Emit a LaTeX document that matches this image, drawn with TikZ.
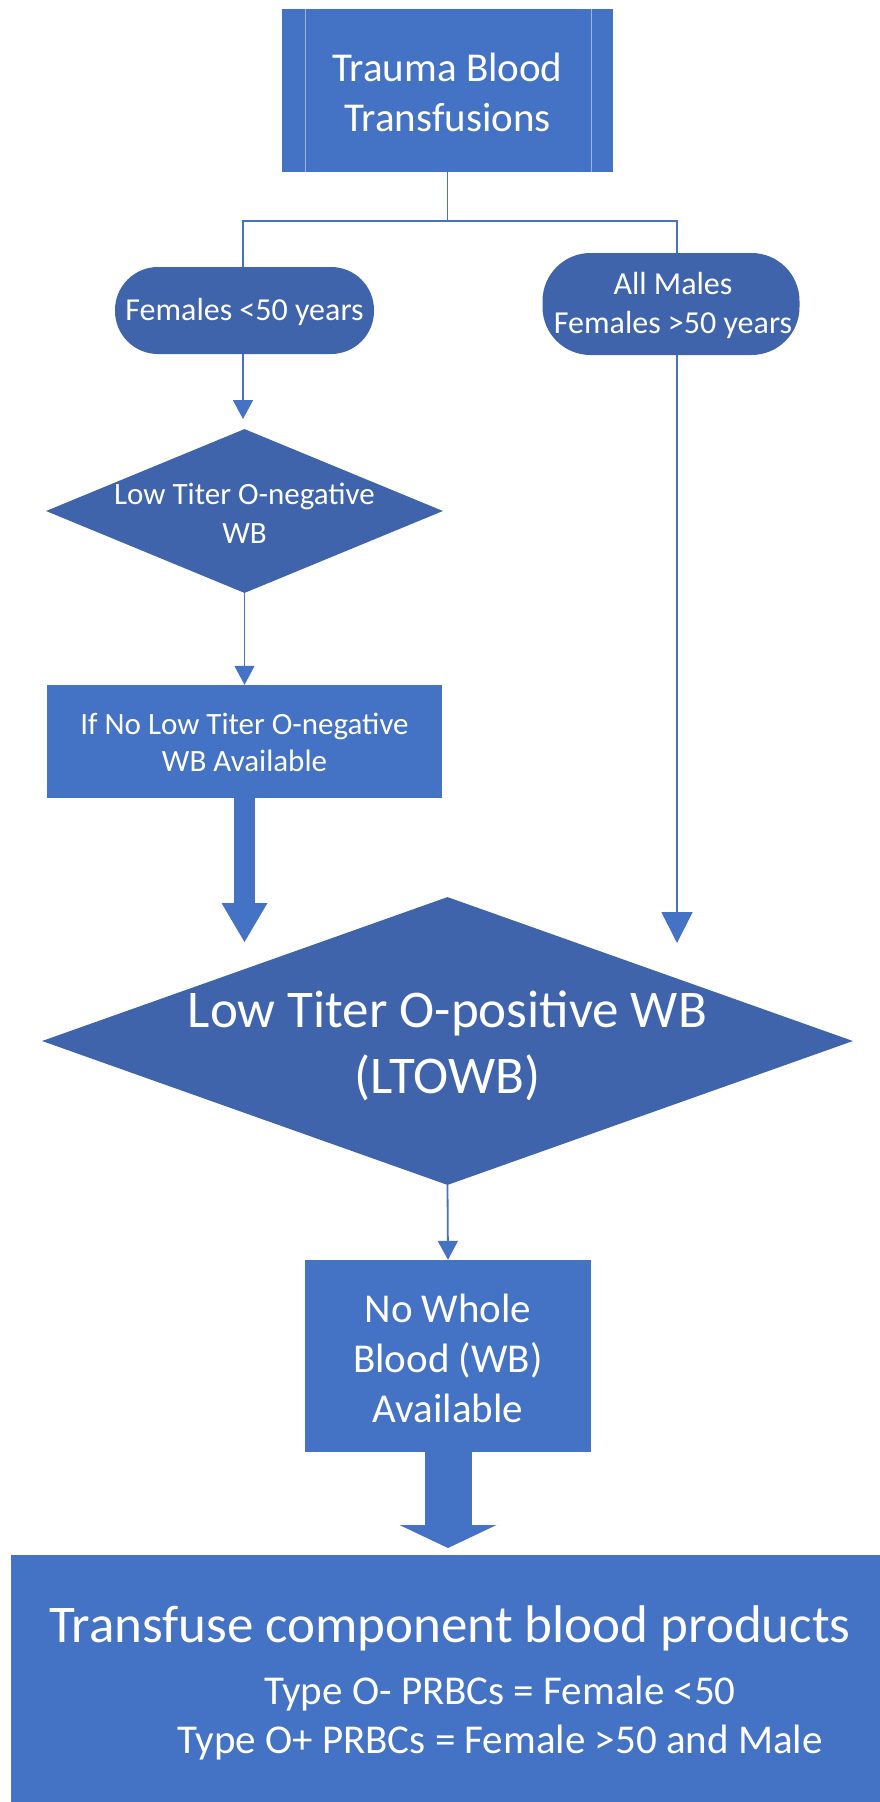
\documentclass[tikz,border=0pt]{standalone}
\usepackage{fontspec}
\setmainfont{Carlito}
\usetikzlibrary{arrows.meta,shapes.geometric}
\definecolor{rectblue}{HTML}{4472C4}
\definecolor{darkblue}{HTML}{3F64AC}
\definecolor{lineblue}{HTML}{4472C4}
\definecolor{innerline}{HTML}{9DB3E0}
\tikzset{
  blk/.style={fill=rectblue, draw=none, inner sep=0pt, rectangle},
  dk/.style={fill=darkblue, draw=none, inner sep=0pt},
  txt/.style={text=white, align=center, inner sep=0pt},
  conn/.style={draw=lineblue, line width=1.8pt},
  smalltip/.style={-{Triangle[width=20pt,length=19pt]}},
  bigshaft/.style={draw=rectblue, line cap=butt},
}
\begin{document}
\begin{tikzpicture}[x=1pt,y=-1pt]
\useasboundingbox (0,0) rectangle (880,1802);
% top box (predefined process)
\node[blk, minimum width=331pt, minimum height=163pt] (top) at (447.5,90.5) {};
\draw[innerline, line width=1pt] ([xshift=24pt]top.north west) -- ([xshift=24pt]top.south west);
\draw[innerline, line width=1pt] ([xshift=-22pt]top.north east) -- ([xshift=-22pt]top.south east);
\node[txt, font=\fontsize{41}{50}\selectfont] (toptext) at (447.5,92) {Trauma Blood\\Transfusions};
% pills
\node[dk, rectangle, rounded corners=43pt, minimum width=259pt, minimum height=87pt] (pillL) at (244.5,310.5) {};
\node[txt, font=\fontsize{32}{39}\selectfont] (pillLt) at (244.5,312) {Females <50 years};
\node[dk, rectangle, rounded corners=48pt, minimum width=257pt, minimum height=102pt] (pillR) at (671,304) {};
\node[txt, font=\fontsize{32}{39}\selectfont] (pillRt) at (673,305.5) {All Males\\Females >50 years};
% diamond 1
\node[dk, diamond, minimum width=397pt, minimum height=164pt] (dia1) at (244.5,511) {};
\node[txt, font=\fontsize{31}{39}\selectfont] (dia1t) at (244.5,513) {Low Titer O-negative\\WB};
% box 2
\node[blk, minimum width=395pt, minimum height=113pt] (box2) at (244.5,741.5) {};
\node[txt, font=\fontsize{31}{37}\selectfont] (box2t) at (244.5,742) {If No Low Titer O-negative\\WB Available};
% big diamond
\node[dk, diamond, minimum width=811pt, minimum height=288pt] (dia2) at (447.5,1041) {};
\node[txt, font=\fontsize{53}{66}\selectfont] (dia2t) at (447.5,1046) {Low Titer O-positive WB\\(LTOWB)};
% box 3
\node[blk, minimum width=286pt, minimum height=192pt] (box3) at (448,1356) {};
\node[txt, font=\fontsize{41}{50}\selectfont] (box3t) at (448,1358) {No Whole\\Blood (WB)\\Available};
% final box
\node[blk, anchor=north west, minimum width=880pt, minimum height=260pt] (final) at (11,1555) {};
\node[txt, font=\fontsize{53}{60}\selectfont] (finalt1) at (450,1628) {Transfuse component blood products};
\node[txt, font=\fontsize{41}{49}\selectfont] (finalt2) at (500,1694) {Type O- PRBCs = Female <50};
\node[txt, font=\fontsize{41}{49}\selectfont] (finalt3) at (500,1743) {Type O+ PRBCs = Female >50 and Male};
% connectors
\coordinate (split) at (447.5,221);
\coordinate (tipA) at (243,419);
\coordinate (tipL) at (244.5,942);
\coordinate (tipR) at (677,943);
\coordinate (tipB) at (448,1548);
\draw[conn] (top.south) -- (split) -| (pillL.north -| tipA);
\draw[conn] (split) -| (pillR.north -| tipR);
\draw[conn, smalltip] (pillL.south -| tipA) -- (tipA);
\draw[conn, smalltip] (dia1.south) -- (box2.north);
\draw[bigshaft, line width=21pt, -{Triangle[width=46pt,length=39pt,line width=0pt]}] (box2.south) -- (tipL);
\draw[conn, -{Triangle[width=31pt,length=31pt]}] (pillR.south -| tipR) -- (tipR);
\draw[conn, smalltip] (dia2.south) -- (box3.north);
\draw[bigshaft, line width=47pt, -{Triangle[width=97pt,length=23pt,line width=0pt]}] (box3.south) -- (tipB);
\end{tikzpicture}
\end{document}
